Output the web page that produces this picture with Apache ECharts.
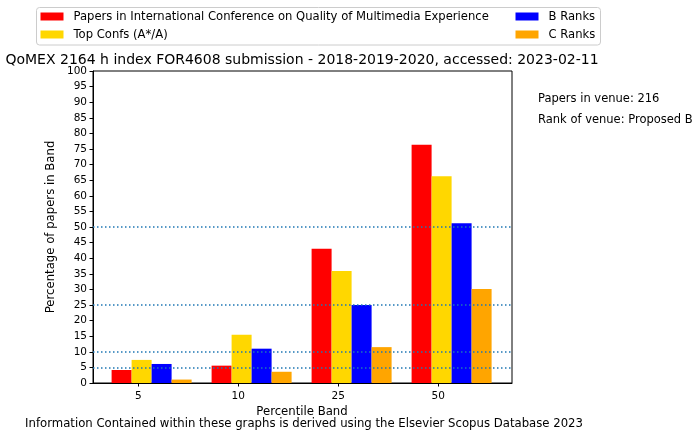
<!DOCTYPE html>
<html><head><meta charset="utf-8">
<script src="https://cdn.jsdelivr.net/npm/echarts@6/dist/echarts.min.js"></script>
<style>html,body{margin:0;padding:0;background:#fff}#c{width:695px;height:433px}</style>
</head><body><div id="c"></div>
<script>
var categories = ['5', '10', '25', '50'];
var papers = [4.17, 5.56, 43.06, 76.39];
var topConfs = [7.4, 15.5, 35.9, 66.3];
var bRanks = [6.1, 11.0, 25.0, 51.2];
var cRanks = [1.1, 3.6, 11.5, 30.1];
var refLines = [5, 10, 25, 50];
var seriesNames = ['Papers in International Conference on Quality of Multimedia Experience', 'Top Confs (A*/A)', 'B Ranks', 'C Ranks'];
var seriesColors = ['#ff0000', '#ffd700', '#0000ff', '#ffa500'];
var offsets = [-0.167, 0.033, 0.233, 0.433];

var FONT = 'DejaVu Sans';
var allData = [papers, topConfs, bRanks, cRanks];
var series = allData.map(function (vals, s) {
  var o = {
    name: seriesNames[s], type: 'bar', barWidth: 20, barGap: '-100%',
    itemStyle: { color: seriesColors[s] },
    data: vals.map(function (v, i) { return [i + offsets[s], v]; })
  };
  if (s === 3) {
    o.markLine = {
      silent: true, symbol: 'none', label: { show: false },
      lineStyle: { color: '#1f77b4', type: [1.5, 2.5], width: 1.5 },
      data: refLines.map(function (v) { return { yAxis: v }; })
    };
  }
  return o;
});

var legendText = { fontSize: 11.6, fontFamily: FONT, color: '#000', lineHeight: 13, padding: [0, 0, 0, 5] };
var chart = echarts.init(document.getElementById('c'), null, { renderer: 'canvas' });
chart.setOption({
  animation: false,
  textStyle: { fontFamily: FONT },
  grid: { left: 93, top: 71, right: 183, bottom: 50, show: true, borderColor: '#000', borderWidth: 1 },
  xAxis: {
    type: 'value', min: -0.453, max: 3.737,
    axisLine: { onZero: false, lineStyle: { color: '#000' } },
    splitLine: { show: false },
    axisTick: { show: true, length: 3.5, lineStyle: { color: '#000' }, customValues: [0, 1, 2, 3] },
    axisLabel: { color: '#000', fontSize: 10.5, fontFamily: FONT, margin: 8, customValues: [0, 1, 2, 3],
      formatter: function (v) { return categories[Math.round(v)]; } }
  },
  yAxis: {
    type: 'value', min: 0, max: 100, interval: 5,
    axisLine: { show: true, onZero: false, lineStyle: { color: '#000' } },
    splitLine: { show: false },
    axisTick: { show: true, length: 3.5, lineStyle: { color: '#000' } },
    axisLabel: { color: '#000', fontSize: 10.5, fontFamily: FONT, margin: 6 }
  },
  legend: [
    { orient: 'vertical', left: 40.5, top: 10, padding: 0, itemWidth: 23, itemHeight: 8, itemGap: 5, icon: 'rect',
      data: [seriesNames[0], seriesNames[1]], textStyle: legendText },
    { orient: 'vertical', left: 515.5, top: 10, padding: 0, itemWidth: 23, itemHeight: 8, itemGap: 5, icon: 'rect',
      data: [seriesNames[2], seriesNames[3]], textStyle: legendText }
  ],
  graphic: [
    { type: 'rect', z: -1, shape: { x: 36.5, y: 7.5, width: 564, height: 37.5, r: 3 },
      style: { fill: '#fff', stroke: '#cccccc', lineWidth: 1 } },
    { type: 'text', x: 302, y: 60, style: { text: 'QoMEX 2164 h index FOR4608 submission - 2018-2019-2020, accessed: 2023-02-11',
      font: '14px "DejaVu Sans"', fill: '#000', textAlign: 'center', textVerticalAlign: 'middle' } },
    { type: 'text', x: 538, y: 99, style: { text: 'Papers in venue: 216', font: '11.5px "DejaVu Sans"', fill: '#000', textAlign: 'left', textVerticalAlign: 'middle' } },
    { type: 'text', x: 538, y: 120, style: { text: 'Rank of venue: Proposed B', font: '11.5px "DejaVu Sans"', fill: '#000', textAlign: 'left', textVerticalAlign: 'middle' } },
    { type: 'text', x: 51, y: 227, rotation: Math.PI / 2, style: { text: 'Percentage of papers in Band', font: '11.7px "DejaVu Sans"', fill: '#000', textAlign: 'center', textVerticalAlign: 'middle' } },
    { type: 'text', x: 302, y: 412, style: { text: 'Percentile Band', font: '11.7px "DejaVu Sans"', fill: '#000', textAlign: 'center', textVerticalAlign: 'middle' } },
    { type: 'text', x: 304, y: 424, style: { text: 'Information Contained within these graphs is derived using the Elsevier Scopus Database 2023', font: '11.7px "DejaVu Sans"', fill: '#000', textAlign: 'center', textVerticalAlign: 'middle' } }
  ],
  series: series
});
</script></body></html>
